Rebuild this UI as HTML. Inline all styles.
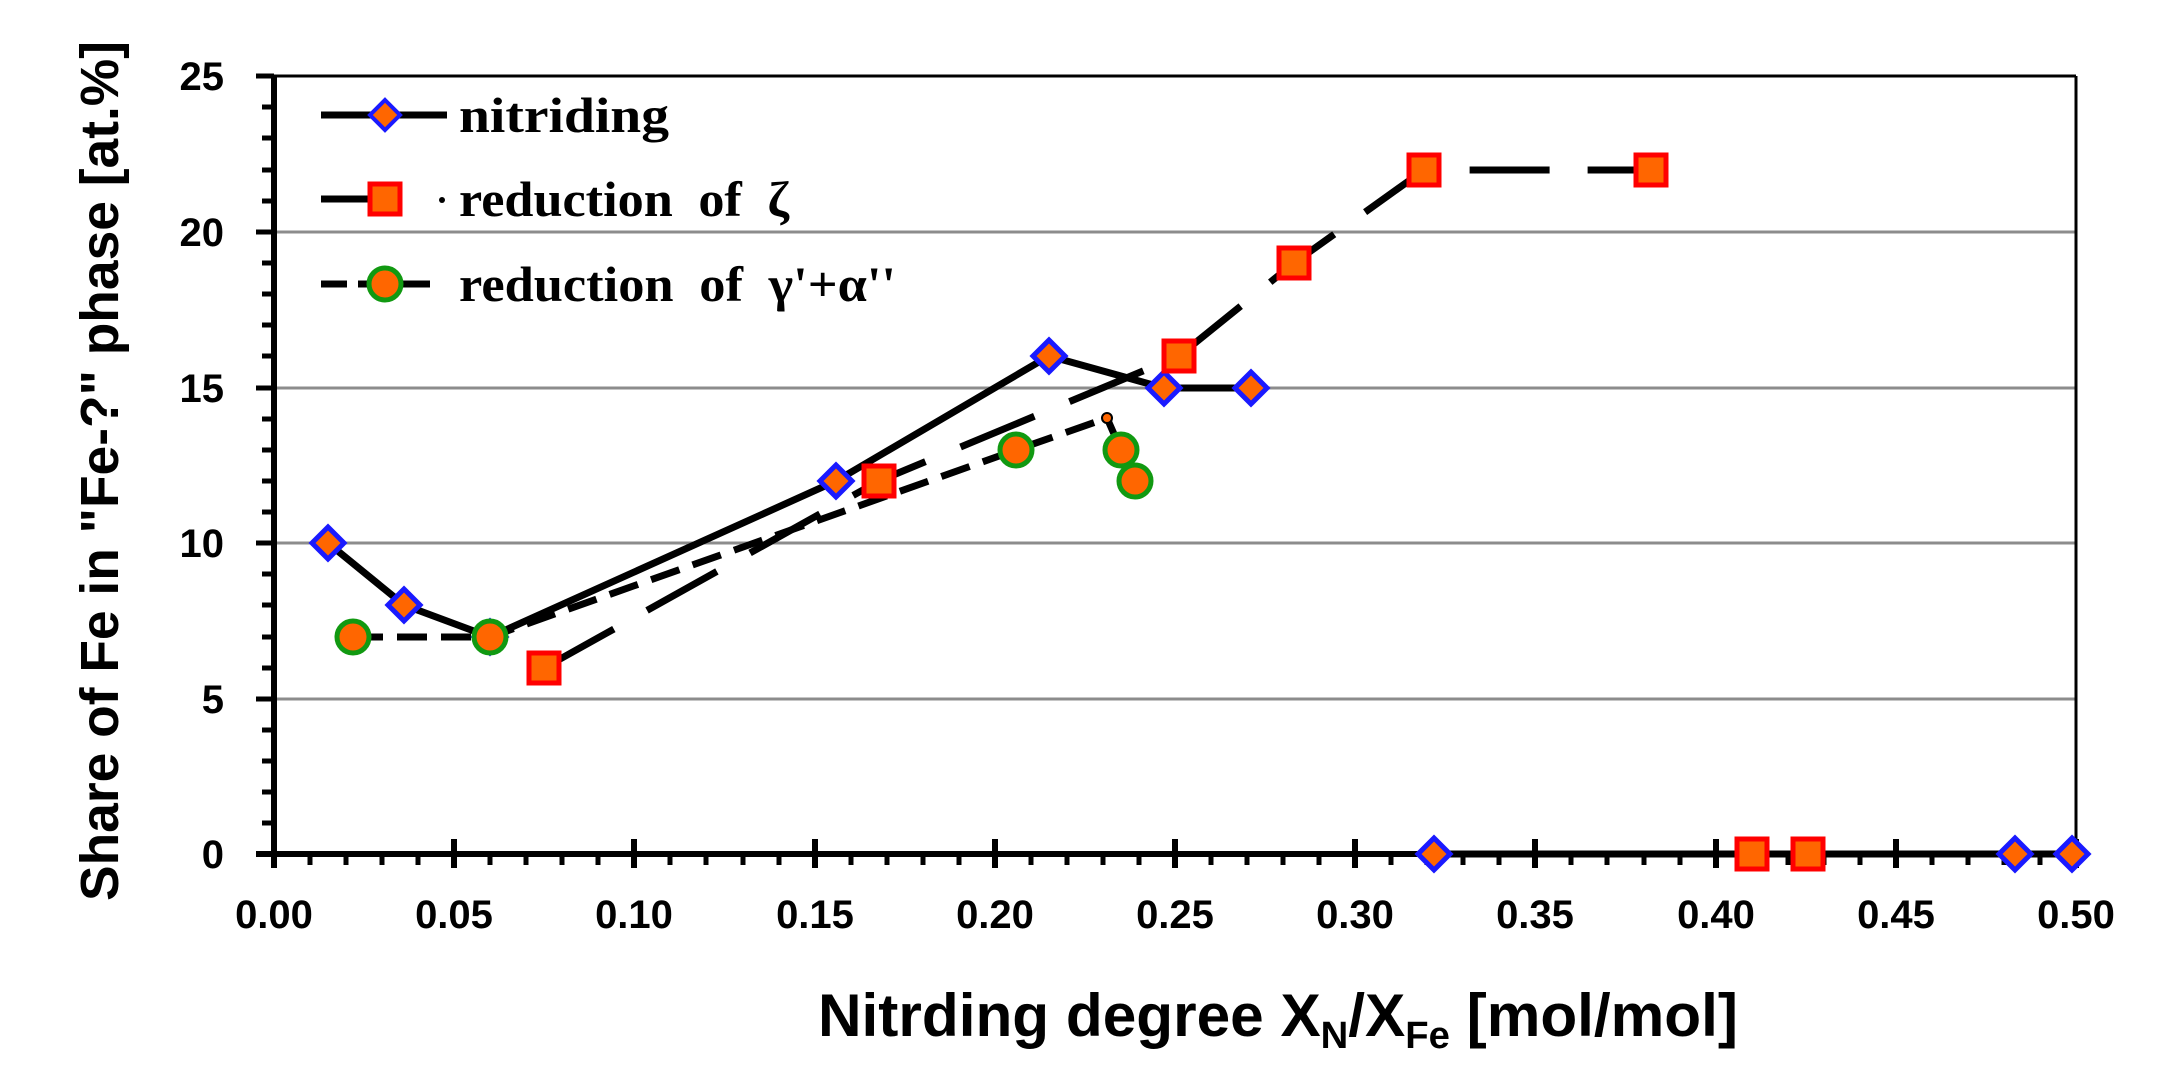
<!DOCTYPE html>
<html><head><meta charset="utf-8"><style>
html,body{margin:0;padding:0;background:#fff;}
svg{display:block;}
</style></head><body>
<svg width="2174" height="1087" viewBox="0 0 2174 1087" xmlns="http://www.w3.org/2000/svg">
<rect width="2174" height="1087" fill="#fff"/>
<g stroke="#8c8c8c" stroke-width="3">
<line x1="274" y1="232" x2="2076" y2="232"/>
<line x1="274" y1="388" x2="2076" y2="388"/>
<line x1="274" y1="543" x2="2076" y2="543"/>
<line x1="274" y1="699" x2="2076" y2="699"/>
</g>
<line x1="274" y1="76" x2="2076" y2="76" stroke="#000" stroke-width="3"/>
<line x1="2076" y1="76" x2="2076" y2="854" stroke="#000" stroke-width="3"/>
<line x1="274" y1="76" x2="274" y2="868" stroke="#000" stroke-width="6"/>
<line x1="256" y1="854" x2="2076" y2="854" stroke="#000" stroke-width="6"/>
<g stroke="#000" stroke-width="5">
<line x1="256" y1="76" x2="274" y2="76"/><line x1="256" y1="232" x2="274" y2="232"/><line x1="256" y1="388" x2="274" y2="388"/><line x1="256" y1="543" x2="274" y2="543"/><line x1="256" y1="699" x2="274" y2="699"/>
<line x1="262" y1="107" x2="274" y2="107"/><line x1="262" y1="138" x2="274" y2="138"/><line x1="262" y1="170" x2="274" y2="170"/><line x1="262" y1="201" x2="274" y2="201"/>
<line x1="262" y1="263" x2="274" y2="263"/><line x1="262" y1="294" x2="274" y2="294"/><line x1="262" y1="325" x2="274" y2="325"/><line x1="262" y1="356" x2="274" y2="356"/>
<line x1="262" y1="419" x2="274" y2="419"/><line x1="262" y1="450" x2="274" y2="450"/><line x1="262" y1="481" x2="274" y2="481"/><line x1="262" y1="512" x2="274" y2="512"/>
<line x1="262" y1="574" x2="274" y2="574"/><line x1="262" y1="605" x2="274" y2="605"/><line x1="262" y1="637" x2="274" y2="637"/><line x1="262" y1="668" x2="274" y2="668"/>
<line x1="262" y1="730" x2="274" y2="730"/><line x1="262" y1="761" x2="274" y2="761"/><line x1="262" y1="792" x2="274" y2="792"/><line x1="262" y1="823" x2="274" y2="823"/>
</g>
<!-- x major ticks -->
<g stroke="#000" stroke-width="6">
<line x1="454" y1="839" x2="454" y2="868"/><line x1="634" y1="839" x2="634" y2="868"/><line x1="815" y1="839" x2="815" y2="868"/><line x1="995" y1="839" x2="995" y2="868"/><line x1="1175" y1="839" x2="1175" y2="868"/><line x1="1355" y1="839" x2="1355" y2="868"/><line x1="1535" y1="839" x2="1535" y2="868"/><line x1="1716" y1="839" x2="1716" y2="868"/><line x1="1896" y1="839" x2="1896" y2="868"/><line x1="2076" y1="839" x2="2076" y2="868"/>
</g>
<!-- x minor ticks -->
<g stroke="#000" stroke-width="5">
<line x1="310" y1="854" x2="310" y2="865"/><line x1="346" y1="854" x2="346" y2="865"/><line x1="382" y1="854" x2="382" y2="865"/><line x1="418" y1="854" x2="418" y2="865"/>
<line x1="490" y1="854" x2="490" y2="865"/><line x1="526" y1="854" x2="526" y2="865"/><line x1="562" y1="854" x2="562" y2="865"/><line x1="598" y1="854" x2="598" y2="865"/>
<line x1="670" y1="854" x2="670" y2="865"/><line x1="706" y1="854" x2="706" y2="865"/><line x1="743" y1="854" x2="743" y2="865"/><line x1="779" y1="854" x2="779" y2="865"/>
<line x1="851" y1="854" x2="851" y2="865"/><line x1="887" y1="854" x2="887" y2="865"/><line x1="923" y1="854" x2="923" y2="865"/><line x1="959" y1="854" x2="959" y2="865"/>
<line x1="1031" y1="854" x2="1031" y2="865"/><line x1="1067" y1="854" x2="1067" y2="865"/><line x1="1103" y1="854" x2="1103" y2="865"/><line x1="1139" y1="854" x2="1139" y2="865"/>
<line x1="1211" y1="854" x2="1211" y2="865"/><line x1="1247" y1="854" x2="1247" y2="865"/><line x1="1283" y1="854" x2="1283" y2="865"/><line x1="1319" y1="854" x2="1319" y2="865"/>
<line x1="1391" y1="854" x2="1391" y2="865"/><line x1="1427" y1="854" x2="1427" y2="865"/><line x1="1463" y1="854" x2="1463" y2="865"/><line x1="1499" y1="854" x2="1499" y2="865"/>
<line x1="1571" y1="854" x2="1571" y2="865"/><line x1="1607" y1="854" x2="1607" y2="865"/><line x1="1644" y1="854" x2="1644" y2="865"/><line x1="1680" y1="854" x2="1680" y2="865"/>
<line x1="1752" y1="854" x2="1752" y2="865"/><line x1="1788" y1="854" x2="1788" y2="865"/><line x1="1824" y1="854" x2="1824" y2="865"/><line x1="1860" y1="854" x2="1860" y2="865"/>
<line x1="1932" y1="854" x2="1932" y2="865"/><line x1="1968" y1="854" x2="1968" y2="865"/><line x1="2004" y1="854" x2="2004" y2="865"/><line x1="2040" y1="854" x2="2040" y2="865"/>
</g>
<g font-family="Liberation Sans, sans-serif" font-weight="bold" font-size="40" fill="#000">
<g text-anchor="end">
<text x="224" y="90">25</text><text x="224" y="246">20</text><text x="224" y="402">15</text><text x="224" y="557">10</text><text x="224" y="713">5</text><text x="224" y="868">0</text>
</g>
<g text-anchor="middle">
<text x="274" y="928">0.00</text><text x="454" y="928">0.05</text><text x="634" y="928">0.10</text><text x="815" y="928">0.15</text><text x="995" y="928">0.20</text><text x="1175" y="928">0.25</text><text x="1355" y="928">0.30</text><text x="1535" y="928">0.35</text><text x="1716" y="928">0.40</text><text x="1896" y="928">0.45</text><text x="2076" y="928">0.50</text>
</g>
<text x="818" y="1036" font-size="60" textLength="920" lengthAdjust="spacingAndGlyphs">Nitrding degree X<tspan font-size="38" dy="12">N</tspan><tspan dy="-12">/X</tspan><tspan font-size="38" dy="12">Fe</tspan><tspan dy="-12"> [mol/mol]</tspan></text>
<text transform="translate(118,471) rotate(-90)" text-anchor="middle" font-size="54" textLength="860" lengthAdjust="spacingAndGlyphs">Share of Fe in "Fe-?" phase [at.%]</text>
</g>
<g fill="none" stroke="#000" stroke-width="7">
<polyline points="328,543 404,605 490,637 836,481 1049,356 1164,388 1251,388"/>
<polyline points="1434,854 2076,854"/>
<polyline points="544,668 879,481 1179,356 1294,263 1424,170 1651,170" stroke-dasharray="80,38"/>
<polyline points="353,637 490,637 1016,450 1107,418 1121,450" stroke-dasharray="30,14"/>
</g>
<g fill="#ff6600" stroke="#1a1aff" stroke-width="5">
<path d="M328,527 l16,16 -16,16 -16,-16z"/><path d="M404,589 l16,16 -16,16 -16,-16z"/><path d="M490,621 l16,16 -16,16 -16,-16z"/>
<path d="M836,465 l16,16 -16,16 -16,-16z"/><path d="M1049,340 l16,16 -16,16 -16,-16z"/><path d="M1164,372 l16,16 -16,16 -16,-16z"/><path d="M1251,372 l16,16 -16,16 -16,-16z"/>
<path d="M1434,838 l16,16 -16,16 -16,-16z"/><path d="M2015,838 l16,16 -16,16 -16,-16z"/><path d="M2072,838 l16,16 -16,16 -16,-16z"/>
</g>
<g fill="#ff6600" stroke="#ff0000" stroke-width="5">
<rect x="529" y="653" width="30" height="30"/><rect x="864" y="466" width="30" height="30"/><rect x="1164" y="341" width="30" height="30"/><rect x="1279" y="248" width="30" height="30"/><rect x="1409" y="155" width="30" height="30"/><rect x="1636" y="155" width="30" height="30"/>
<rect x="1737" y="839" width="30" height="30"/><rect x="1793" y="839" width="30" height="30"/>
</g>
<g fill="#ff6600" stroke="#119911" stroke-width="5">
<circle cx="353" cy="637" r="16"/><circle cx="490" cy="637" r="16"/><circle cx="1016" cy="450" r="16"/><circle cx="1121" cy="450" r="16"/><circle cx="1135" cy="481" r="16"/>
</g>
<circle cx="1107" cy="418" r="5" fill="#ff6600" stroke="#000" stroke-width="2"/>
<g stroke="#000" stroke-width="7">
<line x1="321" y1="115" x2="447" y2="115"/>
<line x1="321" y1="199" x2="385" y2="199"/>
<line x1="321" y1="284" x2="347" y2="284"/><line x1="358" y1="284" x2="430" y2="284"/>
</g>
<circle cx="442" cy="200" r="3" fill="#000"/>
<path d="M385,100 l15,15 -15,15 -15,-15z" fill="#ff6600" stroke="#1a1aff" stroke-width="4"/>
<rect x="370" y="184" width="30" height="30" fill="#ff6600" stroke="#ff0000" stroke-width="5"/>
<circle cx="385" cy="284" r="16" fill="#ff6600" stroke="#119911" stroke-width="5"/>
<g font-family="Liberation Serif, serif" font-weight="bold" font-size="50" fill="#000">
<text x="459" y="132" textLength="210" lengthAdjust="spacingAndGlyphs">nitriding</text>
<text x="459" y="216" word-spacing="12" textLength="330" lengthAdjust="spacingAndGlyphs">reduction of ζ</text>
<text x="459" y="301" word-spacing="12" textLength="437" lengthAdjust="spacingAndGlyphs">reduction of γ'+α''</text>
</g>
</svg>
</body></html>
